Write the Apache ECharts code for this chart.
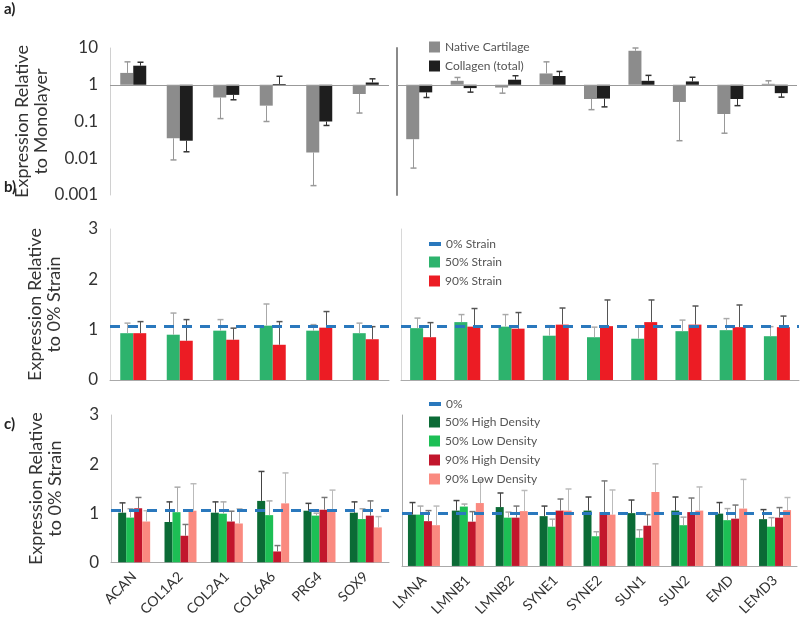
<!DOCTYPE html>
<html>
<head>
<meta charset="utf-8">
<script src="https://cdn.jsdelivr.net/npm/echarts@6/dist/echarts.min.js"></script>
<style>html,body{margin:0;padding:0;background:#fff;}#c{width:800px;height:619px;}</style>
</head>
<body>
<div id="c"></div>
<script>
// ---------- data ----------
const categoriesLeft = ['ACAN','COL1A2','COL2A1','COL6A6','PRG4','SOX9'];
const categoriesRight = ['LMNA','LMNB1','LMNB2','SYNE1','SYNE2','SUN1','SUN2','EMD','LEMD3'];
const logTicks = [0.001, 0.01, 0.1, 1, 10];

// panel a (relative to monolayer, log scale); *Err = end value of error bar
const nativeCartilageL    = [2.1, 0.035, 0.45, 0.27, 0.0144, 0.56];
const nativeCartilageErrL = [4.2, 0.009, 0.12, 0.10, 0.0018, 0.17];
const collagenL           = [3.3, 0.030, 0.53, 1.05, 0.10, 1.15];
const collagenErrL        = [4.1, 0.015, 0.39, 1.7, 0.078, 1.45];
const nativeCartilageR    = [0.033, 1.28, 0.84, 2.03, 0.41, 8.4, 0.34, 0.16, 1.06];
const nativeCartilageErrR = [0.0054, 1.58, 0.59, 4.2, 0.21, 10, 0.03, 0.048, 1.28];
const collagenR           = [0.62, 0.81, 1.37, 1.73, 0.42, 1.28, 1.23, 0.41, 0.59];
const collagenErrR        = [0.45, 0.63, 1.76, 2.3, 0.25, 1.8, 1.6, 0.27, 0.46];

// panel b (relative to 0% strain)
const refStrain     = 1.06;
const strain50L     = [0.93, 0.90, 0.98, 1.08, 0.98, 0.93];
const strain50ErrL  = [1.13, 1.33, 1.20, 1.51, 1.10, 1.13];
const strain90L     = [0.93, 0.78, 0.80, 0.70, 1.04, 0.81];
const strain90ErrL  = [1.16, 1.20, 1.03, 1.16, 1.36, 1.06];
const strain50R     = [1.03, 1.15, 1.06, 0.88, 0.85, 0.82, 0.97, 0.99, 0.87];
const strain50ErrR  = [1.23, 1.30, 1.30, 1.08, 1.05, 1.06, 1.19, 1.22, 1.06];
const strain90R     = [0.85, 1.06, 1.02, 1.10, 1.07, 1.15, 1.10, 1.05, 1.05];
const strain90ErrR  = [1.14, 1.42, 1.34, 1.43, 1.59, 1.59, 1.47, 1.49, 1.27];

// panel c (density)
const refDensity = 1.05;
const hd50L    = [1.01, 0.82, 1.01, 1.25, 1.05, 1.01];
const hd50ErrL = [1.21, 1.23, 1.23, 1.85, 1.20, 1.23];
const ld50L    = [0.91, 1.02, 0.99, 0.96, 0.95, 0.88];
const ld50ErrL = [1.09, 1.53, 1.23, 1.25, 1.00, 1.09];
const hd90L    = [1.10, 0.54, 0.83, 0.22, 1.07, 0.95];
const hd90ErrL = [1.32, 0.77, 1.04, 0.34, 1.32, 1.25];
const ld90L    = [0.83, 1.05, 0.79, 1.20, 1.05, 0.71];
const ld90ErrL = [1.05, 1.60, 1.09, 1.82, 1.47, 0.93];
const hd50R    = [1.02, 1.10, 1.17, 0.99, 1.10, 1.05, 1.10, 1.04, 0.93];
const hd50ErrR = [1.26, 1.30, 1.45, 1.19, 1.37, 1.31, 1.37, 1.26, 1.12];
const ld50R    = [1.02, 1.18, 0.96, 0.78, 0.59, 0.56, 0.81, 0.91, 0.78];
const ld50ErrR = [1.19, 1.23, 1.07, 0.93, 0.68, 0.72, 0.97, 1.14, 0.96];
const hd90R    = [0.89, 0.88, 0.96, 1.10, 1.07, 0.80, 1.07, 0.94, 0.96];
const hd90ErrR = [1.10, 1.08, 1.19, 1.33, 1.69, 1.02, 1.35, 1.21, 1.16];
const ld90R    = [0.81, 1.25, 1.09, 1.10, 1.02, 1.47, 1.10, 1.14, 1.11];
const ld90ErrR = [1.19, 1.71, 1.50, 1.53, 1.51, 2.03, 1.57, 1.72, 1.36];

// ---------- styling ----------
const FONT = 'Lato';
const BLUE = '#2a78bd';

const grids = [
  {left: 110, top: 48,  width: 279, height: 147},
  {left: 397, top: 48,  width: 400, height: 147},
  {left: 110, top: 229, width: 279, height: 151},
  {left: 401, top: 229, width: 398, height: 151},
  {left: 111, top: 415, width: 278, height: 157},
  {left: 402, top: 415, width: 395, height: 157}
];

const xAxes = [], yAxes = [], series = [];

function addAxes(k, cats, isLog, showYLabels, yName, showXLabels, vLineColor, vLineWidth) {
  xAxes.push({
    gridIndex: k, type: 'category', data: cats,
    axisLine: {show: !isLog, lineStyle: {color: '#aaa', width: 1}},
    axisTick: {show: false},
    axisLabel: showXLabels ? {show: true, rotate: 45, interval: 0, fontFamily: FONT, fontSize: 14, color: '#333', margin: 12} : {show: false},
    splitLine: {show: false}
  });
  const y = {
    gridIndex: k,
    axisLine: {show: true, lineStyle: {color: vLineColor, width: vLineWidth}},
    axisTick: {show: false},
    splitLine: {show: false},
    axisLabel: {show: showYLabels, fontFamily: FONT, fontSize: 17, color: '#333', margin: 12},
    name: yName || '',
    nameLocation: 'middle', nameRotate: 90, nameGap: 46,
    nameTextStyle: {fontFamily: FONT, fontSize: 18, color: '#333', lineHeight: 19, align: 'center'}
  };
  if (isLog) {
    Object.assign(y, {type: 'log', logBase: 10, min: logTicks[0], max: logTicks[logTicks.length - 1]});
    y.axisLabel.formatter = v => String(Number(Number(v).toPrecision(3)));
  } else {
    Object.assign(y, {type: 'value', min: 0, max: 3, interval: 1});
  }
  yAxes.push(y);
}

function addBars(k, names, values, errs, colors, errColors, barWidth) {
  const n = names.length;
  names.forEach((name, i) => {
    series.push({
      type: 'bar', name: name, xAxisIndex: k, yAxisIndex: k,
      data: values[i], barWidth: barWidth, barGap: '0%',
      itemStyle: {color: colors[i]}, z: 2, silent: true
    });
    const off = (i - (n - 1) / 2) * barWidth;
    const ec = errColors[i];
    series.push({
      type: 'custom', name: name + ' error', xAxisIndex: k, yAxisIndex: k, z: 3, silent: true,
      data: values[i].map((v, j) => [j, v, errs[i][j]]),
      renderItem: function (params, api) {
        const p = api.coord([api.value(0), api.value(1)]);
        const q = api.coord([api.value(0), api.value(2)]);
        const cx = Math.round(p[0] + off) + 0.5;
        return {
          type: 'group',
          children: [
            {type: 'line', shape: {x1: cx, y1: p[1], x2: cx, y2: q[1]}, style: {stroke: ec, lineWidth: 1}},
            {type: 'line', shape: {x1: cx - 3, y1: q[1], x2: cx + 3, y2: q[1]}, style: {stroke: ec, lineWidth: 1.5}}
          ]
        };
      }
    });
  });
}

function addRefLine(k, name, val, dashed) {
  series.push({
    type: 'line', name: name, xAxisIndex: k, yAxisIndex: k, data: [], z: dashed ? 10 : 1,
    color: dashed ? BLUE : '#999', silent: true,
    markLine: {
      silent: true, symbol: 'none', label: {show: false},
      lineStyle: dashed ? {color: BLUE, width: 3, type: [10, 8]} : {color: '#999', width: 1, type: 'solid'},
      data: [{yAxis: val}]
    }
  });
}

// panel a
const aColors = ['#8c8c8c', '#1e1e1e'], aErr = ['#999', '#333'];
addAxes(0, categoriesLeft, true, true, 'Expression Relative\nto Monolayer', false, '#d0d0d0', 1);
addAxes(1, categoriesRight, true, false, '', false, '#8a8a8a', 2);
addBars(0, ['Native Cartilage', 'Collagen (total)'], [nativeCartilageL, collagenL], [nativeCartilageErrL, collagenErrL], aColors, aErr, 13);
addBars(1, ['Native Cartilage', 'Collagen (total)'], [nativeCartilageR, collagenR], [nativeCartilageErrR, collagenErrR], aColors, aErr, 13);
addRefLine(0, 'base', 1, false);
addRefLine(1, 'base', 1, false);

// panel b
const bColors = ['#2db36d', '#ec1c24'], bErr = ['#aaa', '#555'];
addAxes(2, categoriesLeft, false, true, 'Expression Relative\nto 0% Strain', false, '#d8d8d8', 1);
addAxes(3, categoriesRight, false, false, '', false, '#d8d8d8', 1);
addBars(2, ['50% Strain', '90% Strain'], [strain50L, strain90L], [strain50ErrL, strain90ErrL], bColors, bErr, 13);
addBars(3, ['50% Strain', '90% Strain'], [strain50R, strain90R], [strain50ErrR, strain90ErrR], bColors, bErr, 13);
addRefLine(2, '0% Strain', refStrain, true);
addRefLine(3, '0% Strain', refStrain, true);

// panel c
const cNames = ['50% High Density', '50% Low Density', '90% High Density', '90% Low Density'];
const cColors = ['#0b6b36', '#1dbf55', '#c2162c', '#fa8a80'], cErr = ['#444', '#aaa', '#777', '#bbb'];
addAxes(4, categoriesLeft, false, true, 'Expression Relative\nto 0% Strain', true, '#c8c8c8', 1);
addAxes(5, categoriesRight, false, false, '', true, '#aaaaaa', 1);
addBars(4, cNames, [hd50L, ld50L, hd90L, ld90L], [hd50ErrL, ld50ErrL, hd90ErrL, ld90ErrL], cColors, cErr, 8);
addBars(5, cNames, [hd50R, ld50R, hd90R, ld90R], [hd50ErrR, ld50ErrR, hd90ErrR, ld90ErrR], cColors, cErr, 8);
addRefLine(4, '0%', refDensity, true);
addRefLine(5, '0%', refDensity, true);

const legText = {fontFamily: FONT, fontSize: 12, color: '#555'};
const legBase = {orient: 'vertical', left: 424, itemGap: 7, textStyle: legText, selectedMode: false, itemWidth: 11, itemHeight: 11, icon: 'rect'};

const option = {
  animation: false,
  backgroundColor: '#fff',
  grid: grids,
  xAxis: xAxes,
  yAxis: yAxes,
  series: series,
  legend: [
    Object.assign({}, legBase, {top: 36, data: ['Native Cartilage', 'Collagen (total)']}),
    Object.assign({}, legBase, {top: 233, itemWidth: 12, itemHeight: 4, data: ['0% Strain']}),
    Object.assign({}, legBase, {top: 251, data: ['50% Strain', '90% Strain']}),
    Object.assign({}, legBase, {top: 393, itemWidth: 12, itemHeight: 4, data: ['0%']}),
    Object.assign({}, legBase, {top: 411, data: cNames})
  ],
  graphic: [
    {type: 'text', left: 4, top: 2, style: {text: 'a)', font: 'bold 15px ' + FONT, fill: '#222'}},
    {type: 'text', left: 4, top: 180, style: {text: 'b)', font: 'bold 15px ' + FONT, fill: '#222'}},
    {type: 'text', left: 4, top: 417, style: {text: 'c)', font: 'bold 15px ' + FONT, fill: '#222'}}
  ]
};

const chart = echarts.init(document.getElementById('c'), null, {renderer: 'canvas'});
chart.setOption(option);
</script>
</body>
</html>
